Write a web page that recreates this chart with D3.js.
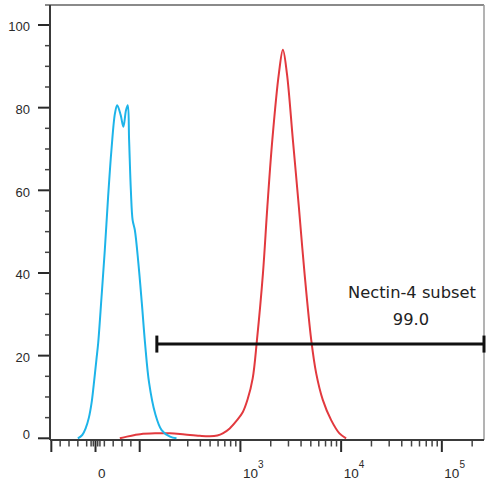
<!DOCTYPE html>
<html><head><meta charset="utf-8">
<script src="https://cdn.jsdelivr.net/npm/d3@7"></script>
<style>body{margin:0;background:#fff}svg{display:block}</style>
</head><body>
<svg id="c" width="492" height="482"></svg>
<script>
// ---- data (channel value, % of max) ----
const blueX = [-40, -30, -22, -15, -9, -4, 2, 6, 13.5, 21, 28.5, 36, 44, 49, 57, 63, 69, 73, 76, 80, 84, 89, 97, 105, 113, 124, 142, 165, 200, 232];
const blueY = [0, 0.8, 2.5, 5, 8.5, 13, 19, 23, 34, 45.5, 58.4, 69.7, 78.6, 80.6, 78.2, 75.4, 79.4, 80.6, 72.2, 60, 52.8, 50.4, 42.4, 32.7, 23, 13.4, 6.1, 2, 0.4, 0];
const redX = [55, 71, 89, 101, 142, 200, 281, 395, 497, 590, 668, 783, 913, 1054, 1181, 1324, 1460, 1674, 1851, 2074, 2411, 2642, 2894, 3318, 3804, 4332, 5047, 5655, 6575, 7962, 9621, 11206];
const redY = [0, 0.4, 0.8, 1.0, 1.2, 1.2, 0.9, 0.6, 0.5, 0.7, 1.2, 2.4, 4.2, 6.3, 9.5, 14.5, 23.8, 39.9, 56, 72.2, 88.3, 94, 88.3, 72.2, 56, 39.9, 23.8, 15.7, 9.3, 4.4, 1.2, 0];

const yMajor = [0, 20, 40, 60, 80, 100];
const yMinor = [5, 10, 15, 25, 30, 35, 45, 50, 55, 65, 70, 75, 85, 90, 95];
const yLabels = ["0", "20", "40", "60", "80", "100"];

const xMajor = [-100, 0, 100, 1000, 10000, 100000];
const xMinor = [-80, -60, -40, -20, -10, -5, 5, 10, 20, 40, 60, 80,
  200, 300, 400, 500, 600, 700, 800, 900,
  2000, 3000, 4000, 5000, 6000, 7000, 8000, 9000,
  20000, 30000, 40000, 50000, 60000, 70000, 80000, 90000, 200000];
const xLabelValues = [0, 1000, 10000, 100000];
const xLabelBase = ["0", "10", "10", "10"];
const xLabelExp = ["", "3", "4", "5"];

const gateRange = [148, 262144];
const gateLevel = 22.8;
const gateName = "Nectin-4 subset";
const gateValue = "99.0";

// ---- scales (biexponential-like: linear near zero, log above) ----
const L = 50, R = 484, T = 5, B = 440;
const xLin = d3.scaleLinear().domain([-103, 100]).range([L, 139.7]);
const xLog = d3.scaleLog().domain([100, 262144]).range([139.7, R]);
const x = v => v <= 100 ? xLin(v) : xLog(v);
const y = d3.scaleLinear().domain([0, 100]).range([438.3, 25]);

const svg = d3.select("#c");
const ink = "#2a2a2a";

// frame
svg.append("line").attr("x1", 45).attr("x2", R).attr("y1", T).attr("y2", T)
  .attr("stroke", "#8a8a8a").attr("stroke-width", 2);
svg.append("line").attr("x1", R).attr("x2", R).attr("y1", T).attr("y2", B)
  .attr("stroke", "#9a9a9a").attr("stroke-width", 1.5);

// y ticks
const gy = svg.append("g");
gy.selectAll("line.maj").data(yMajor).join("line").attr("class", "maj")
  .attr("x1", 38).attr("x2", L).attr("y1", d => y(d)).attr("y2", d => y(d))
  .attr("stroke", ink).attr("stroke-width", 2);
gy.selectAll("line.min").data(yMinor).join("line").attr("class", "min")
  .attr("x1", 45).attr("x2", L).attr("y1", d => y(d)).attr("y2", d => y(d))
  .attr("stroke", "#444").attr("stroke-width", 1.5);
gy.selectAll("text").data(yMajor).join("text")
  .attr("x", 30).attr("y", (d) => y(d) + (d === 0 ? -4 : 1.5))
  .attr("dy", "0.36em").attr("text-anchor", "end")
  .attr("font-family", "Liberation Sans, Arial, sans-serif").attr("font-size", 13)
  .attr("fill", ink).text((d, i) => yLabels[i]);

// x ticks
const gx = svg.append("g");
gx.selectAll("line.maj").data(xMajor).join("line").attr("class", "maj")
  .attr("x1", d => x(d)).attr("x2", d => x(d)).attr("y1", B).attr("y2", 452)
  .attr("stroke", ink).attr("stroke-width", 2);
gx.selectAll("line.min").data(xMinor).join("line").attr("class", "min")
  .attr("x1", d => x(d)).attr("x2", d => x(d)).attr("y1", B).attr("y2", 446.5)
  .attr("stroke", "#444").attr("stroke-width", 1.5);
const lab = gx.selectAll("text").data(xLabelValues).join("text")
  .attr("x", d => x(d) + 2.5).attr("y", 478)
  .attr("font-family", "Liberation Sans, Arial, sans-serif").attr("font-size", 13.5)
  .attr("fill", ink);
lab.append("tspan").text((d, i) => xLabelBase[i]);
lab.append("tspan").attr("dy", -10).attr("font-size", 10).text((d, i) => xLabelExp[i]);

// axis lines
svg.append("line").attr("x1", L).attr("x2", L).attr("y1", T).attr("y2", B)
  .attr("stroke", "#3a3a3a").attr("stroke-width", 2);
svg.append("line").attr("x1", L).attr("x2", R).attr("y1", B).attr("y2", B)
  .attr("stroke", "#3a3a3a").attr("stroke-width", 2);

// histograms
const line = d3.line().x(d => x(d[0])).y(d => y(d[1])).curve(d3.curveCatmullRom.alpha(0.5));
svg.append("path").datum(d3.zip(redX, redY)).attr("d", line)
  .attr("fill", "none").attr("stroke", "#e2393e").attr("stroke-width", 2);
svg.append("path").datum(d3.zip(blueX, blueY)).attr("d", line)
  .attr("fill", "none").attr("stroke", "#1db4e9").attr("stroke-width", 2);

// gate
const gg = svg.append("g").attr("stroke", "#111").attr("stroke-width", 3);
const gyv = y(gateLevel);
gg.append("line").attr("x1", x(gateRange[0])).attr("x2", x(gateRange[1]))
  .attr("y1", gyv).attr("y2", gyv);
gg.selectAll("line.end").data(gateRange).join("line").attr("class", "end")
  .attr("x1", d => x(d)).attr("x2", d => x(d)).attr("y1", gyv - 8.5).attr("y2", gyv + 8.5);

svg.append("text").attr("x", 412).attr("y", 298).attr("text-anchor", "middle")
  .attr("font-family", "DejaVu Sans, sans-serif").attr("font-size", 16.3)
  .attr("fill", "#222").text(gateName);
svg.append("text").attr("x", 411).attr("y", 325).attr("text-anchor", "middle")
  .attr("font-family", "DejaVu Sans, sans-serif").attr("font-size", 16.3)
  .attr("fill", "#222").text(gateValue);
</script>
</body></html>
